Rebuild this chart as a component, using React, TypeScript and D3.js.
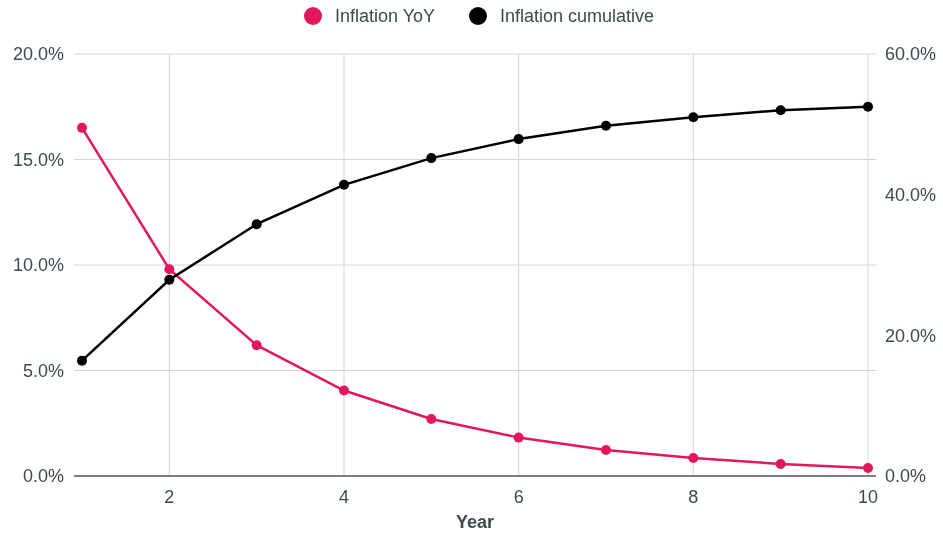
import React, { useEffect, useRef } from 'react';
import * as d3 from 'd3';

const years = [1, 2, 3, 4, 5, 6, 7, 8, 9, 10];
const inflationYoY = [16.5, 9.8, 6.2, 4.05, 2.7, 1.82, 1.23, 0.85, 0.57, 0.38];
const inflationCum = [16.4, 27.9, 35.8, 41.4, 45.2, 47.9, 49.8, 51.0, 52.0, 52.5];
const leftTicks = [0, 5, 10, 15, 20];
const rightTicks = [0, 20, 40, 60];
const xTicks = [2, 4, 6, 8, 10];

const W = 943;
const H = 534;
const RED = '#e3185a';
const TEXT = '#3a4b52';
const FS = 18;

export default function App() {
  const ref = useRef<SVGSVGElement>(null);

  useEffect(() => {
    const svg = d3.select(ref.current);
    svg.selectAll('*').remove();
    svg.style('font-family', '"Liberation Sans", Arial, sans-serif');

    const x = d3.scaleLinear().domain([1, 10]).range([82, 868]);
    const yL = d3.scaleLinear().domain([0, 20]).range([476, 54]);
    const yR = d3.scaleLinear().domain([0, 60]).range([476, 54]);
    const gridL = 74;
    const gridR = 876;

    // horizontal grid
    svg.append('g').selectAll('line')
      .data(leftTicks.filter(d => d > 0))
      .enter().append('line')
      .attr('x1', gridL).attr('x2', gridR)
      .attr('y1', d => yL(d)).attr('y2', d => yL(d))
      .attr('stroke', '#d4d4d4').attr('stroke-width', 1);

    // vertical grid
    svg.append('g').selectAll('line')
      .data(xTicks)
      .enter().append('line')
      .attr('x1', d => x(d)).attr('x2', d => x(d))
      .attr('y1', 54).attr('y2', 476)
      .attr('stroke', '#d4d4d4').attr('stroke-width', 1);

    // baseline
    svg.append('line')
      .attr('x1', gridL).attr('x2', gridR)
      .attr('y1', yL(0)).attr('y2', yL(0))
      .attr('stroke', '#555').attr('stroke-width', 1.5);

    // left axis labels
    svg.append('g').selectAll('text')
      .data(leftTicks)
      .enter().append('text')
      .attr('x', 64).attr('y', d => yL(d))
      .attr('dy', '0.35em')
      .attr('text-anchor', 'end')
      .attr('font-size', FS).attr('fill', TEXT)
      .text(d => d.toFixed(1) + '%');

    // right axis labels
    svg.append('g').selectAll('text')
      .data(rightTicks)
      .enter().append('text')
      .attr('x', 885).attr('y', d => yR(d))
      .attr('dy', '0.35em')
      .attr('font-size', FS).attr('fill', TEXT)
      .text(d => d.toFixed(1) + '%');

    // x labels
    svg.append('g').selectAll('text')
      .data(xTicks)
      .enter().append('text')
      .attr('x', d => x(d)).attr('y', 497)
      .attr('dy', '0.35em')
      .attr('text-anchor', 'middle')
      .attr('font-size', FS).attr('fill', TEXT)
      .text(d => d);

    svg.append('text')
      .attr('x', 475).attr('y', 522)
      .attr('dy', '0.35em')
      .attr('text-anchor', 'middle')
      .attr('font-size', FS).attr('font-weight', 'bold').attr('fill', TEXT)
      .text('Year');

    const lineL = d3.line<number>().x((d, i) => x(years[i])).y(d => yL(d));
    const lineR = d3.line<number>().x((d, i) => x(years[i])).y(d => yR(d));

    svg.append('path').datum(inflationYoY)
      .attr('d', lineL).attr('fill', 'none')
      .attr('stroke', RED).attr('stroke-width', 2.5);
    svg.append('g').selectAll('circle')
      .data(inflationYoY)
      .enter().append('circle')
      .attr('cx', (d, i) => x(years[i])).attr('cy', d => yL(d))
      .attr('r', 5).attr('fill', RED);

    svg.append('path').datum(inflationCum)
      .attr('d', lineR).attr('fill', 'none')
      .attr('stroke', '#000').attr('stroke-width', 2.5);
    svg.append('g').selectAll('circle')
      .data(inflationCum)
      .enter().append('circle')
      .attr('cx', (d, i) => x(years[i])).attr('cy', d => yR(d))
      .attr('r', 5).attr('fill', '#000');

    // legend
    const legend = [
      { label: 'Inflation YoY', color: RED, x: 313 },
      { label: 'Inflation cumulative', color: '#000', x: 478 },
    ];
    const lg = svg.append('g').selectAll('g')
      .data(legend)
      .enter().append('g');
    lg.append('circle')
      .attr('cx', d => d.x).attr('cy', 16).attr('r', 9)
      .attr('fill', d => d.color);
    lg.append('text')
      .attr('x', d => d.x + 22).attr('y', 16)
      .attr('dy', '0.35em')
      .attr('font-size', FS).attr('fill', TEXT)
      .text(d => d.label);
  }, []);

  return (
    <svg
      ref={ref}
      width={W}
      height={H}
      style={{ position: 'fixed', top: 0, left: 0, display: 'block' }}
    />
  );
}
